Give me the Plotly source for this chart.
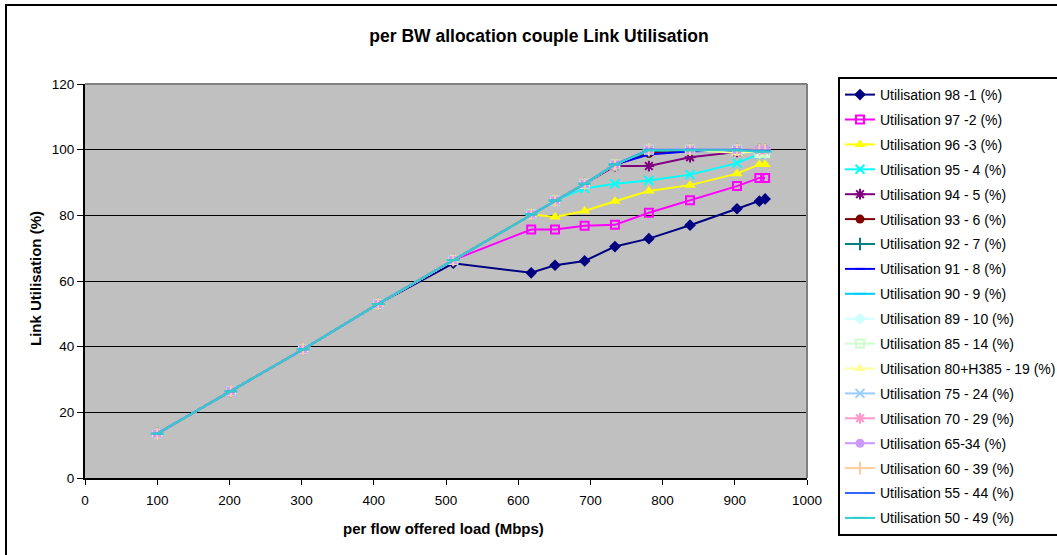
import plotly.graph_objects as go

load = [100, 202, 302, 406, 510, 618, 651, 692, 734, 781, 838, 903, 934, 942]

names = [
    "Utilisation 98 -1 (%)", "Utilisation 97 -2 (%)", "Utilisation 96 -3 (%)",
    "Utilisation 95 - 4 (%)", "Utilisation 94 - 5 (%)", "Utilisation 93 - 6 (%)",
    "Utilisation 92 - 7 (%)", "Utilisation 91 - 8 (%)", "Utilisation 90 - 9 (%)",
    "Utilisation 89 - 10 (%)", "Utilisation 85 - 14 (%)", "Utilisation 80+H385 - 19 (%)",
    "Utilisation 75 - 24 (%)", "Utilisation 70 - 29 (%)", "Utilisation 65-34 (%)",
    "Utilisation 60 - 39 (%)", "Utilisation 55 - 44 (%)", "Utilisation 50 - 49 (%)",
]

u98_1 = [13.5, 26.4, 39.2, 53.0, 65.4, 62.5, 64.8, 66.1, 70.5, 72.9, 77.0, 82.0, 84.3, 85.0]
u97_2 = [13.5, 26.4, 39.2, 53.0, 66.4, 75.7, 75.7, 76.8, 77.1, 80.8, 84.6, 88.9, 91.4, 91.4]
u96_3 = [13.5, 26.4, 39.2, 53.0, 66.4, 80.3, 79.5, 81.3, 84.3, 87.4, 89.2, 92.7, 95.5, 95.5]
u95_4 = [13.5, 26.4, 39.2, 53.0, 66.4, 80.3, 84.5, 88.2, 89.6, 90.6, 92.4, 95.9, 98.7, 99.0]
u94_5 = [13.5, 26.4, 39.2, 53.0, 66.4, 80.3, 84.5, 89.6, 95.0, 95.0, 97.7, 99.3, 99.5, 99.6]
u93_6 = [13.5, 26.4, 39.2, 53.0, 66.4, 80.3, 84.5, 89.6, 95.5, 98.8, 99.6, 100.0, 100.0, 100.0]
u92_7 = [13.5, 26.4, 39.2, 53.0, 66.4, 80.3, 84.5, 89.6, 95.5, 99.5, 100.0, 100.0, 100.0, 100.0]
u91_8 = [13.5, 26.4, 39.2, 53.0, 66.4, 80.3, 84.5, 89.6, 95.5, 98.5, 99.5, 99.7, 99.8, 99.8]
u90_9 = [13.5, 26.4, 39.2, 53.0, 66.4, 80.3, 84.5, 89.6, 95.5, 100.0, 100.0, 100.0, 99.4, 99.4]
u89_10 = [13.5, 26.4, 39.2, 53.0, 66.4, 80.3, 84.5, 89.6, 95.5, 100.0, 100.0, 100.0, 99.0, 99.0]
u85_14 = [13.5, 26.4, 39.2, 53.0, 66.4, 80.3, 84.5, 89.6, 95.5, 100.0, 100.0, 100.0, 99.0, 99.0]
u80_19 = [13.5, 26.4, 39.2, 53.0, 66.4, 80.3, 84.5, 89.6, 95.5, 100.0, 100.0, 99.0, 99.5, 99.5]
u75_24 = [13.5, 26.4, 39.2, 53.0, 66.4, 80.3, 84.5, 89.6, 95.5, 100.0, 100.0, 100.0, 100.0, 100.0]
u70_29 = [13.5, 26.4, 39.2, 53.0, 66.4, 80.3, 84.5, 89.6, 95.5, 100.0, 100.0, 100.0, 100.0, 100.0]
u65_34 = [13.5, 26.4, 39.2, 53.0, 66.4, 80.3, 84.5, 89.6, 95.5, 100.0, 100.0, 100.0, 100.0, 100.0]
u60_39 = [13.5, 26.4, 39.2, 53.0, 66.4, 80.3, 84.5, 89.6, 95.5, 100.0, 100.0, 100.0, 100.0, 100.0]
u55_44 = [13.5, 26.4, 39.2, 53.0, 66.4, 80.3, 84.5, 89.6, 95.5, 100.0, 100.0, 100.0, 99.7, 99.7]
u50_49 = [13.5, 26.4, 39.2, 53.0, 66.4, 80.3, 84.5, 89.6, 95.5, 99.8, 99.8, 99.8, 99.4, 99.4]

series = [u98_1, u97_2, u96_3, u95_4, u94_5, u93_6, u92_7, u91_8, u90_9,
          u89_10, u85_14, u80_19, u75_24, u70_29, u65_34, u60_39, u55_44, u50_49]

colors = ["#000080", "#FF00FF", "#FFFF00", "#00FFFF", "#800080", "#800000",
          "#008080", "#0000FF", "#00CCFF", "#CCFFFF", "#CCFFCC", "#FFFF99",
          "#99CCFF", "#FF99CC", "#CC99FF", "#FFCC99", "#3366FF", "#33CCCC"]

symbols = ["diamond", "square-open", "triangle-up", "x-thin-open", "asterisk-open", "circle",
           "line-ns-open", "line-ew-open", "line-ew-open", "diamond", "square-open", "triangle-up",
           "x-thin-open", "asterisk-open", "circle", "line-ns-open", "line-ew-open", "line-ew-open"]
sizes = [9, 8, 10, 9, 9, 9, 9, 7, 9, 9, 8, 10, 9, 9, 9, 9, 7, 9]

fig = go.Figure()
for i, (nm, ys) in enumerate(zip(names, series)):
    sym = symbols[i]
    openish = sym.endswith("open")
    fig.add_trace(go.Scatter(
        x=load, y=ys, name=nm, mode="lines+markers",
        legendgroup="g%d" % i,
        line=dict(color=colors[i], width=2),
        marker=dict(symbol=sym, size=sizes[i], color=colors[i],
                    line=dict(color=colors[i], width=2 if openish else 0)),
    ))

W, H = 1057, 555
L, R, T, B = 85, 807, 84, 478
pw, ph = R - L, B - T

def px(x):
    return (x - L) / pw

def py(y):
    return (B - y) / ph

fig.update_layout(
    width=W, height=H,
    margin=dict(l=L, r=W - R, t=T, b=H - B, autoexpand=False),
    paper_bgcolor="white",
    plot_bgcolor="#C0C0C0",
    font=dict(family="Liberation Sans, Arial, sans-serif", color="black", size=13),
    title=dict(text="<b>per BW allocation couple Link Utilisation</b>",
               font=dict(family="Liberation Sans, Arial", size=17.5, color="black"),
               xref="paper", x=px(539), xanchor="center",
               yref="container", y=1 - 36 / H, yanchor="middle"),
    xaxis=dict(range=[0, 1000], dtick=100, tick0=0, showgrid=False, zeroline=False,
               showline=True, linecolor="black", linewidth=2,
               ticks="outside", ticklen=5, tickcolor="black", tickwidth=1,
               tickfont=dict(size=13.5), ticklabelstandoff=4),
    yaxis=dict(range=[0, 120], dtick=20, tick0=0, showgrid=True, gridcolor="black", gridwidth=1,
               zeroline=False, showline=True, linecolor="black", linewidth=2,
               ticks="outside", ticklen=6, tickcolor="black", tickwidth=1,
               tickfont=dict(size=13.5)),
    showlegend=True,
    legend=dict(x=px(838), y=py(77), xanchor="left", yanchor="top",
                bgcolor="white", bordercolor="black", borderwidth=2,
                font=dict(size=14, family="Liberation Sans, Arial"),
                tracegroupgap=3.7, itemwidth=30, maxheight=700,
                traceorder="grouped"),
    annotations=[
        dict(text="<b>per flow offered load (Mbps)</b>", xref="paper", yref="paper",
             x=px(443), y=py(528), xanchor="center", yanchor="middle", showarrow=False,
             font=dict(size=15)),
        dict(text="<b>Link Utilisation (%)</b>", xref="paper", yref="paper",
             x=px(35), y=py(279), xanchor="center", yanchor="middle", showarrow=False,
             textangle=-90, font=dict(size=15)),
    ],
    shapes=[
        dict(type="line", xref="paper", yref="paper", x0=0, x1=1, y0=1, y1=1,
             line=dict(color="#808080", width=2), layer="above"),
        dict(type="line", xref="paper", yref="paper", x0=1, x1=1, y0=0, y1=1,
             line=dict(color="#808080", width=2), layer="above"),
        dict(type="rect", xref="paper", yref="paper", x0=px(6), x1=px(1200), y0=py(600), y1=py(5),
             line=dict(color="black", width=2), fillcolor="rgba(0,0,0,0)", layer="below"),
    ],
)

fig.write_html("out.html")
